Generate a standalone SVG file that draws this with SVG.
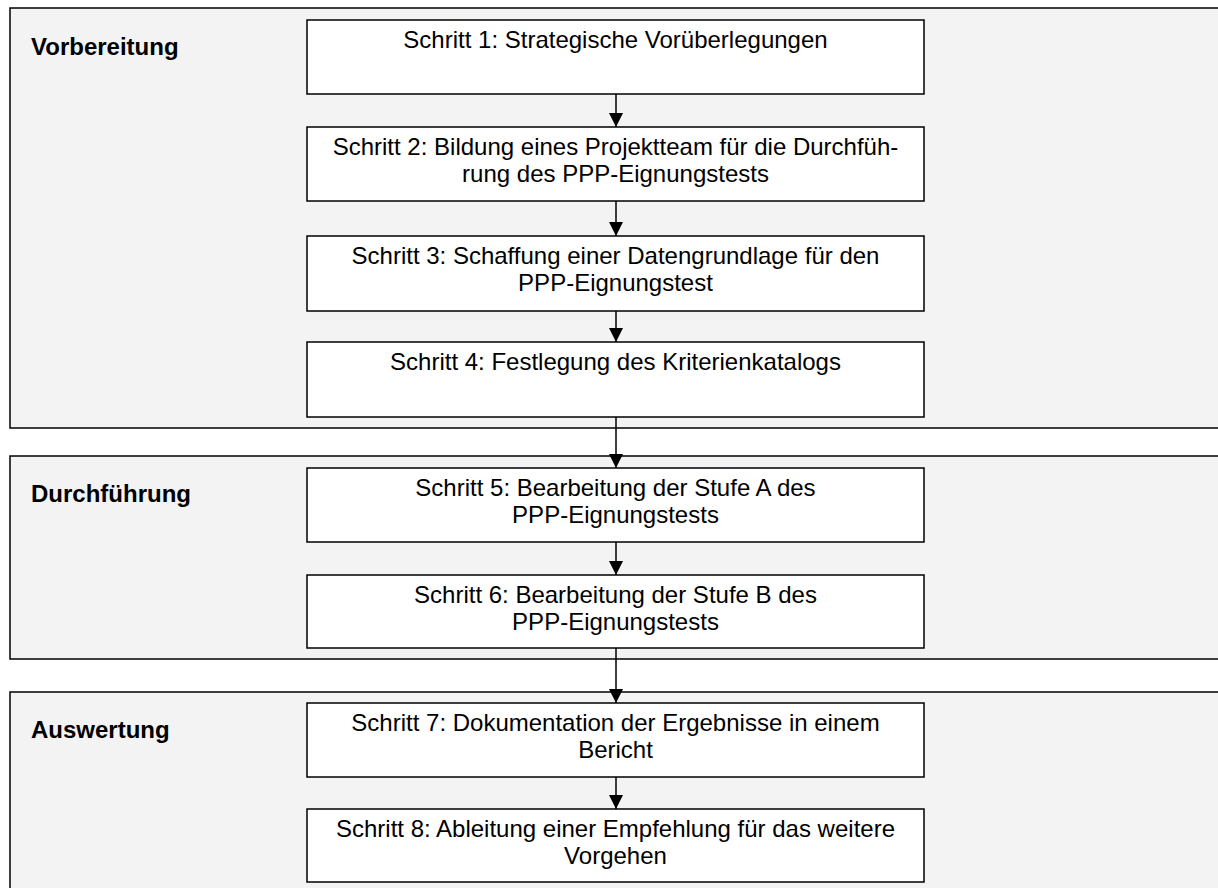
<svg xmlns="http://www.w3.org/2000/svg" width="1218" height="888" viewBox="0 0 1218 888">
<style>
.panel{fill:#f3f3f3;stroke:#000;stroke-width:1.5}
.box{fill:#fff;stroke:#000;stroke-width:1.5}
.lbl{font-family:"Liberation Sans",Arial,sans-serif;font-size:24px;font-weight:bold;fill:#000}
.t{font-family:"Liberation Sans",Arial,sans-serif;font-size:24px;fill:#000;text-anchor:middle}
.con{stroke:#000;stroke-width:1.5;fill:none;marker-end:url(#ah)}
</style>
<defs>
<marker id="ah" markerUnits="userSpaceOnUse" markerWidth="15" markerHeight="14" refX="14" refY="7" orient="auto" viewBox="0 0 14 14">
<path d="M0,0 L14,7 L0,14 Z" fill="#000"/>
</marker>
</defs>
<rect width="1218" height="888" fill="#fff"/>
<g id="panel-vorbereitung">
<rect class="panel" x="10" y="8" width="1220" height="420"/>
<text class="lbl" x="31" y="55">Vorbereitung</text>
</g>
<g id="panel-durchfuehrung">
<rect class="panel" x="10" y="456" width="1220" height="203"/>
<text class="lbl" x="31" y="502">Durchführung</text>
</g>
<g id="panel-auswertung">
<rect class="panel" x="10" y="692" width="1220" height="210"/>
<text class="lbl" x="31" y="738">Auswertung</text>
</g>
<g id="connectors">
<line class="con" x1="616" y1="94" x2="616" y2="127"/>
<line class="con" x1="616" y1="201" x2="616" y2="236"/>
<line class="con" x1="616" y1="311" x2="616" y2="342"/>
<line class="con" x1="616" y1="417" x2="616" y2="468"/>
<line class="con" x1="616" y1="542" x2="616" y2="575"/>
<line class="con" x1="616" y1="648" x2="616" y2="703"/>
<line class="con" x1="616" y1="777" x2="616" y2="809"/>
</g>
<g id="s1">
<rect class="box" x="307" y="20" width="617" height="74"/>
<text class="t" x="615.5" y="48">Schritt 1: Strategische Vorüberlegungen</text>
</g>
<g id="s2">
<rect class="box" x="307" y="127" width="617" height="74"/>
<text class="t" x="615.5" y="155">Schritt 2: Bildung eines Projektteam für die Durchfüh-</text>
<text class="t" x="615.5" y="182">rung des PPP-Eignungstests</text>
</g>
<g id="s3">
<rect class="box" x="307" y="236" width="617" height="75"/>
<text class="t" x="615.5" y="264">Schritt 3: Schaffung einer Datengrundlage für den</text>
<text class="t" x="615.5" y="291">PPP-Eignungstest</text>
</g>
<g id="s4">
<rect class="box" x="307" y="342" width="617" height="75"/>
<text class="t" x="615.5" y="370">Schritt 4: Festlegung des Kriterienkatalogs</text>
</g>
<g id="s5">
<rect class="box" x="307" y="468" width="617" height="74"/>
<text class="t" x="615.5" y="496">Schritt 5: Bearbeitung der Stufe A des</text>
<text class="t" x="615.5" y="523">PPP-Eignungstests</text>
</g>
<g id="s6">
<rect class="box" x="307" y="575" width="617" height="73"/>
<text class="t" x="615.5" y="603">Schritt 6: Bearbeitung der Stufe B des</text>
<text class="t" x="615.5" y="630">PPP-Eignungstests</text>
</g>
<g id="s7">
<rect class="box" x="307" y="703" width="617" height="74"/>
<text class="t" x="615.5" y="731">Schritt 7: Dokumentation der Ergebnisse in einem</text>
<text class="t" x="615.5" y="758">Bericht</text>
</g>
<g id="s8">
<rect class="box" x="307" y="809" width="617" height="73"/>
<text class="t" x="615.5" y="837">Schritt 8: Ableitung einer Empfehlung für das weitere</text>
<text class="t" x="615.5" y="864">Vorgehen</text>
</g>
</svg>
